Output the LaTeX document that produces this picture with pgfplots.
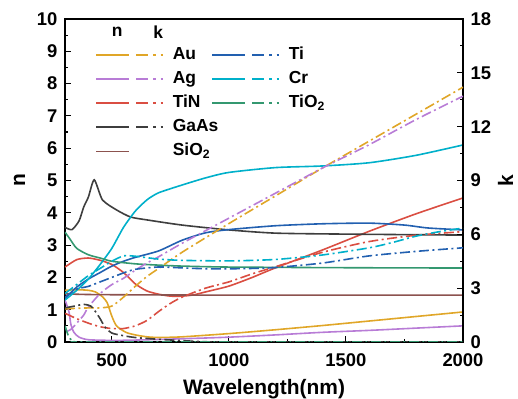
\documentclass[border=0pt]{standalone}
\usepackage{fontspec}
\setmainfont{Liberation Sans}
\usepackage{pgfplots}
\pgfplotsset{compat=1.18}
\definecolor{AuC}{RGB}{224,166,40}
\definecolor{AgC}{RGB}{184,124,214}
\definecolor{TiNC}{RGB}{218,78,66}
\definecolor{GaAsC}{RGB}{62,62,62}
\definecolor{SiOC}{RGB}{140,82,78}
\definecolor{TiC}{RGB}{34,96,176}
\definecolor{CrC}{RGB}{0,176,202}
\definecolor{TiOC}{RGB}{52,152,112}
\pgfplotsset{
  nline/.style={line width=1.6bp, solid, smooth, tension=0.4, no marks},
  kline/.style={line width=1.6bp, dash pattern=on 10bp off 3.5bp on 2bp off 3.5bp, smooth, tension=0.4, no marks},
  common/.style={
    scale only axis, width=398bp, height=323bp,
    xmin=300, xmax=2000,
    tick align=inside,
    major tick length=6bp, minor tick length=3.5bp,
    every tick/.style={line width=1.1bp, black},
    /pgf/number format/assume math mode=true,
    /pgf/number format/1000 sep={},
    ticklabel style={font=\bfseries\fontsize{18.5}{18.5}\selectfont},
    label style={font=\bfseries\fontsize{21}{21}\selectfont},
    legend image code/.code={
      \path[draw=none, fill=none] (0bp,-3bp) rectangle (75bp,3bp);
      \draw[##1, solid, draw opacity=1] (0bp,0bp) -- (33bp,0bp);
      \draw[dash pattern=on 12bp off 5bp on 2.5bp off 5bp on 2.5bp, ##1] (40bp,0bp) -- (75bp,0bp);},
    legend style={draw=none, fill=none, inner sep=0pt, row sep=8.1bp,
      font=\bfseries\fontsize{17.5}{17.5}\selectfont,
      /tikz/every odd column/.append style={column sep=1bp}},
    legend cell align=left,
  },
}
\begin{document}
\begin{tikzpicture}
\useasboundingbox (-65bp,-57bp) rectangle (453bp,342bp);
\begin{axis}[common,
  ymin=0, ymax=10,
  axis line style={line width=1.5bp},
  xtick={500,1000,1500,2000}, minor x tick num=1,
  ytick={0,1,...,10}, minor y tick num=1,
  xtick pos=left, ytick pos=left,
  xticklabel style={yshift=-8bp},
  yticklabel style={xshift=-4bp},
  xlabel={Wavelength(nm)}, ylabel={n},
  xlabel style={yshift=-6bp},
  ylabel style={yshift=5bp},
  legend style={at={(rel axis cs:0.0754,0.914)}, anchor=north west,
    nodes={inner sep=0pt, text height=12.5bp, text depth=3.5bp}},
]
% n (solid)
\addplot[nline, AuC, forget plot] coordinates {(300,1.6)(350,1.62)(400,1.6)(430,1.55)(460,1.4)(480,1.22)(500,0.8)(520,0.5)(560,0.3)(600,0.22)(650,0.16)(700,0.14)(800,0.16)(1000,0.26)(1200,0.38)(1400,0.51)(1600,0.65)(1800,0.79)(2000,0.93)};
\addplot[nline, AgC, forget plot] coordinates {(300,1.3)(310,1.1)(318,0.9)(325,0.55)(338,0.3)(360,0.15)(400,0.07)(500,0.05)(600,0.06)(800,0.1)(1000,0.15)(1200,0.22)(1400,0.3)(1600,0.36)(1800,0.43)(2000,0.5)};
\addplot[nline, TiNC, forget plot] coordinates {(300,2.32)(350,2.55)(400,2.6)(450,2.53)(500,2.4)(550,2.15)(600,1.8)(650,1.58)(700,1.48)(750,1.42)(800,1.42)(850,1.46)(900,1.55)(1000,1.73)(1100,2.0)(1200,2.3)(1400,2.85)(1600,3.43)(1800,3.97)(2000,4.46)};
\addplot[nline, GaAsC, forget plot] coordinates {(300,3.55)(330,3.48)(360,3.75)(380,4.18)(400,4.49)(425,5.02)(460,4.4)(520,4.09)(580,3.87)(650,3.78)(800,3.62)(1000,3.47)(1200,3.37)(1500,3.34)(2000,3.31)};
\addplot[nline, SiOC, forget plot] coordinates {(300,1.49)(400,1.47)(600,1.46)(1000,1.45)(1500,1.45)(2000,1.45)};
\addplot[nline, TiC, forget plot] coordinates {(300,1.35)(350,1.7)(400,1.95)(450,2.15)(500,2.35)(550,2.5)(600,2.62)(700,2.82)(800,3.15)(900,3.38)(1000,3.48)(1200,3.6)(1400,3.66)(1600,3.68)(1750,3.62)(1850,3.53)(2000,3.47)};
\addplot[nline, CrC, forget plot] coordinates {(300,1.3)(350,1.6)(400,1.95)(450,2.4)(500,2.9)(550,3.55)(600,4.05)(650,4.4)(700,4.62)(800,4.86)(900,5.08)(1000,5.25)(1200,5.4)(1400,5.45)(1600,5.55)(1800,5.78)(2000,6.1)};
\addplot[nline, TiOC, forget plot] coordinates {(300,3.4)(320,3.2)(350,2.9)(400,2.7)(450,2.6)(500,2.5)(600,2.42)(700,2.38)(800,2.35)(1000,2.32)(1500,2.3)(2000,2.29)};
% legend column 1
\addlegendimage{line width=1.6bp, color=AuC}\addlegendentry{Au}
\addlegendimage{line width=1.6bp, color=AgC}\addlegendentry{Ag}
\addlegendimage{line width=1.6bp, color=TiNC}\addlegendentry{TiN}
\addlegendimage{line width=1.6bp, color=GaAsC}\addlegendentry{GaAs}
\addlegendimage{line width=1.6bp, color=SiOC, draw opacity=0}\addlegendentry{SiO\textsubscript{2}}
\node[font=\bfseries\fontsize{17.5}{17.5}\selectfont] at (rel axis cs:0.131,0.960) {n};
\node[font=\bfseries\fontsize{17.5}{17.5}\selectfont] at (rel axis cs:0.234,0.960) {k};
\end{axis}
\begin{axis}[common,
  ymin=0, ymax=18,
  axis x line=none, axis y line*=right,
  axis line style={line width=1.5bp},
  ytick={0,3,...,18}, minor y tick num=1,
  yticklabel style={xshift=4bp},
  ylabel={k},
  legend style={at={(rel axis cs:0.367,0.914)}, anchor=north west,
    nodes={inner sep=0pt, text height=12.5bp, text depth=3.5bp}},
]
% k (dash-dot)
\addplot[kline, AuC, forget plot] coordinates {(300,1.85)(400,1.9)(450,1.9)(500,2.0)(550,2.5)(600,3.1)(650,3.65)(700,4.1)(800,5.0)(1000,6.6)(1200,8.15)(1400,9.7)(1600,11.2)(1800,12.7)(2000,14.2)};
\addplot[kline, AgC, forget plot] coordinates {(310,0.6)(325,0.7)(340,0.9)(360,1.2)(380,1.5)(400,1.95)(450,2.7)(500,3.2)(550,3.55)(600,4.0)(650,4.4)(700,4.75)(800,5.5)(1000,6.9)(1200,8.3)(1400,9.7)(1600,11.0)(1800,12.4)(2000,13.7)};
\addplot[kline, TiNC, forget plot] coordinates {(300,1.6)(350,1.3)(400,1.05)(450,0.85)(500,0.75)(550,0.75)(600,0.9)(650,1.2)(700,1.7)(750,2.15)(800,2.5)(900,3.0)(1000,3.35)(1100,3.8)(1200,4.2)(1400,5.0)(1600,5.6)(1800,5.95)(2000,6.15)};
\addplot[kline, GaAsC, forget plot] coordinates {(300,1.9)(340,2.0)(380,2.1)(410,2.0)(430,1.7)(450,1.3)(470,0.85)(500,0.5)(550,0.35)(600,0.25)(700,0.15)(800,0.08)(880,0.02)(1000,0)(1500,0)(2000,0)};
\addplot[kline, TiC, forget plot] coordinates {(300,2.5)(350,2.95)(400,3.1)(450,3.35)(500,3.6)(550,3.85)(600,4.05)(700,4.18)(800,4.13)(900,4.08)(1000,4.08)(1100,4.1)(1200,4.15)(1400,4.4)(1600,4.8)(1800,5.05)(2000,5.25)};
\addplot[kline, CrC, forget plot] coordinates {(300,2.7)(350,3.2)(400,3.7)(450,4.1)(500,4.5)(550,4.8)(600,4.78)(700,4.62)(800,4.55)(1000,4.52)(1200,4.6)(1400,4.85)(1600,5.25)(1700,5.55)(1800,5.9)(1900,6.15)(2000,6.35)};
\addplot[kline, TiOC, forget plot] coordinates {(300,0.9)(310,0.5)(320,0.2)(340,0.02)(360,0)(1000,0)(2000,0)};
\addlegendimage{line width=1.6bp, color=TiC}\addlegendentry{Ti}
\addlegendimage{line width=1.6bp, color=CrC}\addlegendentry{Cr}
\addlegendimage{line width=1.6bp, color=TiOC}\addlegendentry{TiO\textsubscript{2}}
\end{axis}
\end{tikzpicture}
\end{document}
